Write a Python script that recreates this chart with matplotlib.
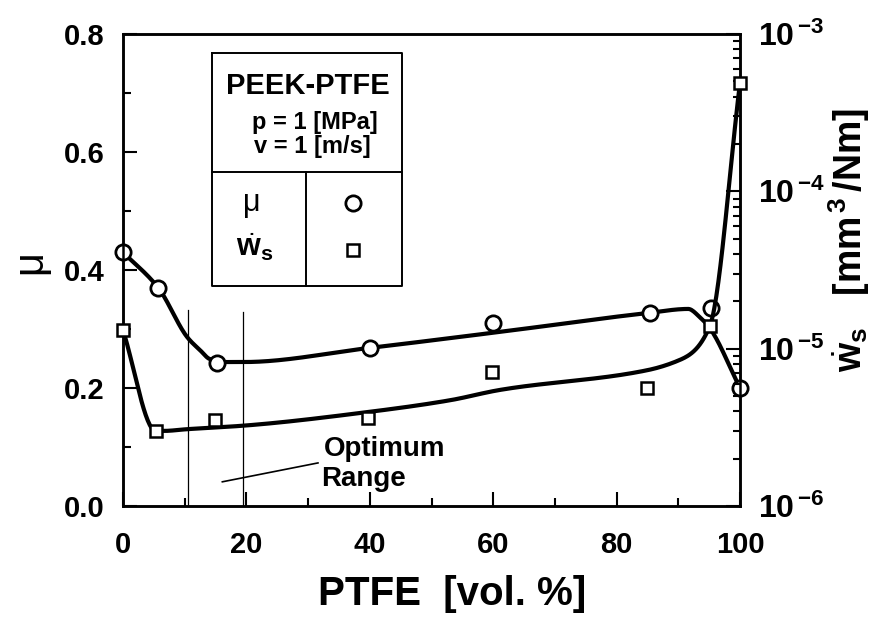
import numpy as np
import matplotlib
matplotlib.use("Agg")
import matplotlib.pyplot as plt
from matplotlib.ticker import MultipleLocator, LogLocator, NullFormatter, FixedLocator, FixedFormatter

plt.rcParams['font.family'] = ['Liberation Sans', 'DejaVu Sans']
plt.rcParams['mathtext.fontset'] = 'custom'
plt.rcParams['mathtext.rm'] = 'Liberation Sans'
plt.rcParams['mathtext.bf'] = 'Liberation Sans:bold'
plt.rcParams['mathtext.it'] = 'Liberation Sans:italic'

# ---- data ----
ptfe_mu = [0, 5.7, 15.2, 40, 60, 85.4, 95.3, 100]
mu_vals = [0.43, 0.37, 0.242, 0.268, 0.31, 0.327, 0.336, 0.20]

ptfe_ws = [0, 5.3, 14.9, 39.7, 59.8, 84.9, 95.1, 100]
ws_vals = [1.31e-5, 3.0e-6, 3.5e-6, 3.6e-6, 7.1e-6, 5.6e-6, 1.39e-5, 4.9e-4]

# hand-drawn fit curves
mu_fit_x = [0, 5.7, 10.5, 12.5, 14.1, 16.9, 19.5, 40, 61, 85, 91.6, 93.5, 95, 100]
mu_fit_y = [0.43, 0.37, 0.285, 0.264, 0.249, 0.244, 0.244, 0.268, 0.295, 0.327, 0.334, 0.32, 0.303, 0.20]

ws_fit_x = [0, 5.3, 6.5, 10.5, 19.5, 40, 53, 61, 85, 90.3, 92.2, 95.1, 100]
ws_fit_y = [1.31e-5, 3.0e-6, 3.0e-6, 3.08e-6, 3.24e-6, 3.97e-6, 4.7e-6, 5.46e-6, 7.3e-6, 8.5e-6, 9.4e-6, 1.39e-5, 4.9e-4]

optimum_bounds = [10.5, 19.5]
x_ticks = [0, 20, 40, 60, 80, 100]
mu_ticks = [0.0, 0.2, 0.4, 0.6, 0.8]
ws_ticks = [1e-6, 1e-5, 1e-4, 1e-3]
ws_tick_labels = [r'$\mathbf{10}^{\,\mathbf{-6}}$', r'$\mathbf{10}^{\,\mathbf{-5}}$',
                  r'$\mathbf{10}^{\,\mathbf{-4}}$', r'$\mathbf{10}^{\,\mathbf{-3}}$']


def pchip(x, y, xn):
    x = np.asarray(x, float); y = np.asarray(y, float); xn = np.asarray(xn, float)
    h = np.diff(x); d = np.diff(y) / h
    m = np.zeros_like(y)
    for k in range(1, len(x) - 1):
        if d[k - 1] * d[k] > 0:
            w1 = 2 * h[k] + h[k - 1]; w2 = h[k] + 2 * h[k - 1]
            m[k] = (w1 + w2) / (w1 / d[k - 1] + w2 / d[k])
    m[0] = d[0]; m[-1] = d[-1]
    idx = np.clip(np.searchsorted(x, xn) - 1, 0, len(h) - 1)
    t = (xn - x[idx]) / h[idx]
    h00 = 2 * t**3 - 3 * t**2 + 1
    h10 = t**3 - 2 * t**2 + t
    h01 = -2 * t**3 + 3 * t**2
    h11 = t**3 - t**2
    return h00 * y[idx] + h10 * h[idx] * m[idx] + h01 * y[idx + 1] + h11 * h[idx] * m[idx + 1]


W, H = 875, 620
fig = plt.figure(figsize=(W / 100, H / 100), dpi=100)
L, R, T, B = 123, 740, 34, 506
ax = fig.add_axes([L / W, 1 - B / H, (R - L) / W, (B - T) / H])
ax2 = ax.twinx()

ax.set_xlim(0, 100)
ax.set_ylim(0, 0.8)
ax2.set_yscale('log')
ax2.set_ylim(1e-6, 1e-3)

for a in (ax, ax2):
    for s in a.spines.values():
        s.set_linewidth(1.8)

# fit curves
xs = np.linspace(0, 100, 600)
ax.plot(xs, pchip(mu_fit_x, mu_fit_y, xs), color='black', lw=3.0, zorder=3, clip_on=False)
ax2.plot(xs, 10 ** pchip(ws_fit_x, np.log10(ws_fit_y), xs), color='black', lw=3.0, zorder=3, clip_on=False)

# points
ax.plot(ptfe_mu, mu_vals, linestyle='none', marker='o', ms=11, mfc='white', mec='black',
        mew=2.0, zorder=5, clip_on=False)
ax2.plot(ptfe_ws, ws_vals, linestyle='none', marker='s', ms=8.5, mfc='white', mec='black',
         mew=1.8, zorder=5, clip_on=False)

# optimum range
for xb, top in zip(optimum_bounds, [0.332, 0.329]):
    ax.plot([xb, xb], [0, top], color='black', lw=0.9, zorder=2)
ax.plot([16.1, 31.6], [0.041, 0.073], color='black', lw=1.2)
ax.text(32.5, 0.097, 'Optimum', fontsize=20, fontweight='bold', ha='left', va='center')
ax.text(32.1, 0.045, 'Range', fontsize=20, fontweight='bold', ha='left', va='center')

# ticks
ax.set_xticks(x_ticks)
ax.xaxis.set_minor_locator(MultipleLocator(10))
ax.set_yticks(mu_ticks)
ax.yaxis.set_minor_locator(MultipleLocator(0.1))
ax.set_yticklabels([f'{v:.1f}' for v in mu_ticks])
ax.tick_params(which='both', direction='in', top=False, right=False, width=1.5)
ax.tick_params(which='major', length=10)
ax.tick_params(which='minor', length=6)
ax.tick_params(axis='x', which='major', labelsize=21, pad=18)
ax.tick_params(axis='y', which='major', labelsize=21, pad=13)
for lab in ax.get_xticklabels() + ax.get_yticklabels():
    lab.set_fontweight('bold')

ax2.yaxis.set_major_locator(FixedLocator(ws_ticks))
ax2.yaxis.set_major_formatter(FixedFormatter(ws_tick_labels))
ax2.yaxis.set_minor_locator(LogLocator(base=10, subs=np.arange(2, 10)))
ax2.yaxis.set_minor_formatter(NullFormatter())
ax2.tick_params(which='both', direction='in', width=1.5)
ax2.tick_params(which='major', length=10, labelsize=23, pad=13)
ax2.tick_params(which='minor', length=5)

# axis labels
fig.text(30 / W, 1 - 262 / H, 'μ', fontsize=30, rotation=90, ha='center', va='center')
fig.text(452 / W, 1 - 594 / H, 'PTFE  [vol. %]', fontsize=29, fontweight='bold',
         ha='center', va='center')
fig.text(849 / W, 1 - 240 / H, r'$\dot{\mathbf{w}}_{\mathbf{s}}$   $\mathbf{[mm^{\,3}\,/Nm]}$',
         fontsize=27, rotation=90, ha='center', va='center')

# legend box
def ax_frac(px, py):
    return (px - L) / (R - L), (B - py) / (B - T)

x0, y0 = ax_frac(212, 53)
x1, y1 = ax_frac(402, 286)
xm, ym = ax_frac(306, 172)
box_kw = dict(color='black', lw=1.4, transform=ax.transAxes, clip_on=False, zorder=6)
ax.plot([x0, x1, x1, x0, x0], [y0, y0, y1, y1, y0], **box_kw)
ax.plot([x0, x1], [ym, ym], **box_kw)
ax.plot([xm, xm], [ym, y1], **box_kw)

tx, ty = ax_frac(308, 86)
ax.text(tx, ty, 'PEEK-PTFE', transform=ax.transAxes, fontsize=21, fontweight='bold',
        ha='center', va='center')
tx, ty = ax_frac(315, 122)
ax.text(tx, ty, 'p = 1 [MPa]', transform=ax.transAxes, fontsize=17, fontweight='bold',
        ha='center', va='center')
tx, ty = ax_frac(312, 146)
ax.text(tx, ty, 'v = 1 [m/s]', transform=ax.transAxes, fontsize=17, fontweight='bold',
        ha='center', va='center')
tx, ty = ax_frac(252, 203)
ax.text(tx, ty, 'μ', transform=ax.transAxes, fontsize=22, ha='center', va='center')
tx, ty = ax_frac(255, 247)
ax.text(tx, ty, r'$\dot{\mathbf{w}}_{\mathbf{s}}$', transform=ax.transAxes, fontsize=22,
        ha='center', va='center')
mx, my = ax_frac(353, 203)
ax.plot([mx], [my], marker='o', ms=11, mfc='white', mec='black', mew=2.0,
        transform=ax.transAxes, clip_on=False)
mx, my = ax_frac(353, 250)
ax.plot([mx], [my], marker='s', ms=8.5, mfc='white', mec='black', mew=1.8,
        transform=ax.transAxes, clip_on=False)

fig.savefig('out.png', dpi=100)
